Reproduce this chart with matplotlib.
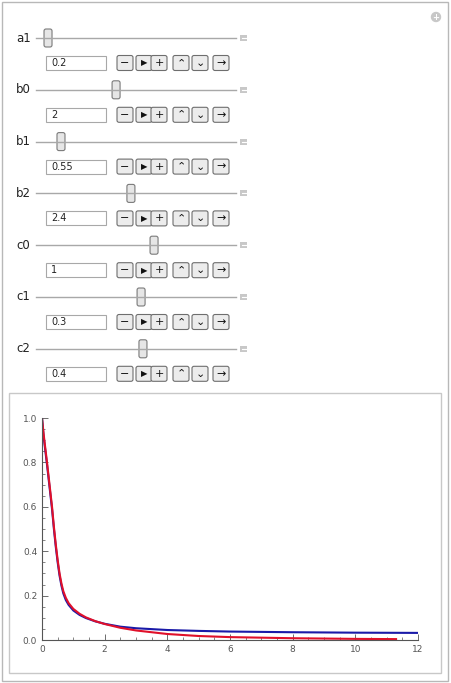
import matplotlib
matplotlib.use("Agg")
import matplotlib.pyplot as plt
from matplotlib.patches import Rectangle, FancyBboxPatch, Circle

params = ["a1", "b0", "b1", "b2", "c0", "c1", "c2"]
values = ["0.2", "2", "0.55", "2.4", "1", "0.3", "0.4"]
thumb_frac = [0.032, 0.394, 0.101, 0.473, 0.596, 0.527, 0.537]

blue_x = [0, 0.05, 0.1, 0.16, 0.24, 0.32, 0.38, 0.44, 0.5, 0.56, 0.62, 0.68, 0.76, 0.85, 1.0, 1.2, 1.4, 1.7, 2, 2.5, 3, 4, 5, 6, 8, 10, 12]
blue_y = [1.0, 0.92, 0.86, 0.79, 0.69, 0.59, 0.5, 0.42, 0.35, 0.29, 0.245, 0.21, 0.18, 0.158, 0.133, 0.113, 0.099, 0.084, 0.073, 0.06, 0.053, 0.045, 0.041, 0.038, 0.035, 0.033, 0.032]
red_x = [0, 0.05, 0.1, 0.16, 0.24, 0.32, 0.38, 0.44, 0.5, 0.56, 0.62, 0.68, 0.76, 0.85, 1.0, 1.2, 1.4, 1.7, 2, 2.5, 3, 4, 5, 6, 8, 10, 11.3]
red_y = [1.0, 0.93, 0.87, 0.8, 0.7, 0.6, 0.51, 0.43, 0.36, 0.3, 0.255, 0.22, 0.19, 0.166, 0.14, 0.118, 0.102, 0.085, 0.072, 0.055, 0.043, 0.027, 0.018, 0.013, 0.008, 0.005, 0.004]

W, H = 451, 683
fig = plt.figure(figsize=(W/100, H/100), dpi=100)
ui = fig.add_axes([0, 0, 1, 1])
ui.set_xlim(0, W); ui.set_ylim(H, 0); ui.axis("off")

ui.add_patch(Rectangle((2, 2), 446, 679, fill=False, ec="#b8b8b8", lw=1))
ui.add_patch(Circle((436, 17), 4.5, color="#c8c8c8"))
ui.text(436, 17.5, "+", ha="center", va="center", color="white", fontsize=6, fontweight="bold")

tl, tr = 36, 236
for i, (p, v, f) in enumerate(zip(params, values, thumb_frac)):
    y = 38 + i * 51.8
    ui.text(16, y, p, ha="left", va="center", fontsize=8.5, color="#222")
    ui.plot([tl, tr], [y, y], color="#a8a8a8", lw=1)
    tx = tl + 6 + f * (tr - tl - 12)
    ui.add_patch(FancyBboxPatch((tx - 4, y - 9), 8, 18, boxstyle="round,pad=0,rounding_size=2",
                                fc="#e6e6e6", ec="#7a7a7a", lw=0.8))
    ui.add_patch(Rectangle((240, y - 3), 7, 6, fc="#c8c8c8", ec="none"))
    ui.plot([241.5, 245.5], [y, y], color="white", lw=0.8)
    yb = y + 25
    ui.add_patch(Rectangle((46, yb - 7), 60, 14, fc="white", ec="#a8a8a8", lw=0.8))
    ui.text(51, yb, v, ha="left", va="center", fontsize=7, color="#222")
    syms = ["−", "▶", "+", "⌃", "⌄", "→"]
    xs = [117, 136, 151, 173, 192, 213]
    for sx, s in zip(xs, syms):
        ui.add_patch(FancyBboxPatch((sx, yb - 7.5), 16, 15, boxstyle="round,pad=0,rounding_size=2",
                                    fc="#ececec", ec="#6e6e6e", lw=0.8))
        ui.text(sx + 8, yb, s, ha="center", va="center", fontsize=8 if s != "▶" else 6,
                color="#111", family=["DejaVu Sans"])

ui.add_patch(Rectangle((9, 393), 432, 280, fc="white", ec="#c8c8c8", lw=1))

x0, x1 = 42, 418
y0, y1 = 640, 418
ax = fig.add_axes([x0/W, 1 - y0/H, (x1-x0)/W, (y0-y1)/H])
ax.plot(blue_x, blue_y, color="#1a1aa8", lw=1.5)
ax.plot(red_x, red_y, color="#e0102a", lw=1.5)
ax.set_xlim(0, 12); ax.set_ylim(0, 1.0)
ax.set_xticks([0, 2, 4, 6, 8, 10, 12])
ax.set_yticks([0, 0.2, 0.4, 0.6, 0.8, 1.0])
ax.set_yticklabels(["0.0", "0.2", "0.4", "0.6", "0.8", "1.0"])
ax.set_xticks([i * 0.5 for i in range(25)], minor=True)
ax.set_yticks([i * 0.05 for i in range(21)], minor=True)
for s in ["top", "right"]:
    ax.spines[s].set_visible(False)
for s in ["left", "bottom"]:
    ax.spines[s].set_color("#555")
ax.tick_params(labelsize=6.5, colors="#555", direction="in", length=4, width=0.6)
ax.tick_params(which="minor", direction="in", length=2, width=0.5, colors="#555")
ax.patch.set_alpha(0)
ax.margins(0)
fig.savefig("out.png", dpi=100)
